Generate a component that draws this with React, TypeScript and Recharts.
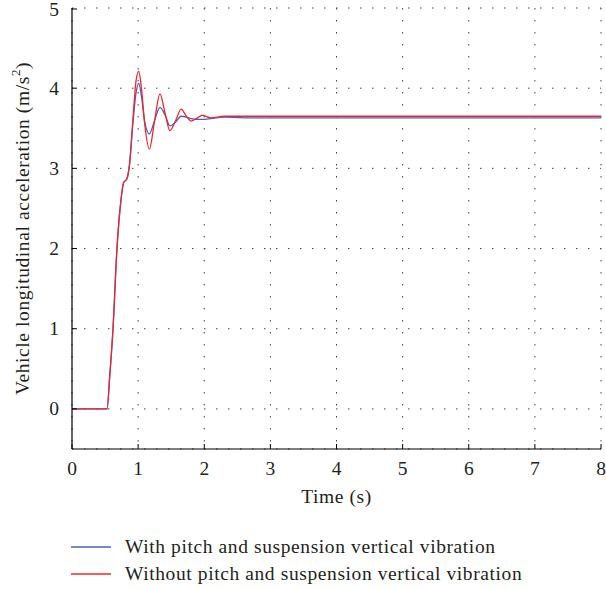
import React from 'react';
import {
  ComposedChart,
  Line,
  XAxis,
  YAxis,
  CartesianGrid
} from 'recharts';

// time samples (s)
const times = [
  0, 0.5, 0.53, 0.57, 0.62, 0.68, 0.74, 0.78, 0.83, 0.87, 0.92, 0.97, 1.01, 1.05, 1.1,
  1.17, 1.25, 1.33, 1.41, 1.48, 1.57, 1.65, 1.73, 1.8, 1.88, 1.97, 2.1, 2.3, 2.6, 3, 4, 5, 6, 7, 8
];

// with pitch and suspension vertical vibration
const withPitch = [
  0, 0, 0, 0.4, 1.0, 2.0, 2.6, 2.82, 2.87, 3.05, 3.55, 3.95, 4.06, 3.9, 3.58,
  3.43, 3.6, 3.76, 3.66, 3.53, 3.58, 3.65, 3.64, 3.62, 3.61, 3.61, 3.62, 3.64, 3.63, 3.63, 3.63, 3.63, 3.63, 3.63, 3.63
];

// without pitch and suspension vertical vibration
const withoutPitch = [
  0, 0, 0, 0.4, 1.0, 2.0, 2.6, 2.82, 2.87, 3.05, 3.6, 4.1, 4.21, 4.0, 3.55,
  3.24, 3.6, 3.93, 3.68, 3.47, 3.6, 3.74, 3.65, 3.59, 3.62, 3.66, 3.63, 3.65, 3.65, 3.65, 3.65, 3.65, 3.65, 3.65, 3.65
];

const xTicks = [0, 1, 2, 3, 4, 5, 6, 7, 8];
const yTicks = [0, 1, 2, 3, 4, 5];

const series = [
  { key: 'blue', name: 'With pitch and suspension vertical vibration', color: '#4a5ec2' },
  { key: 'red', name: 'Without pitch and suspension vertical vibration', color: '#f0262d' }
];

const data = times.map((t, i) => ({ t, blue: withPitch[i], red: withoutPitch[i] }));

const FONT = '"Liberation Serif", "Times New Roman", serif';
const TEXT = '#231f20';
const FS = 19.5;
const LS = 0.6;

const BottomTick = (props: any) => {
  const { x, y, payload } = props;
  return (
    <g>
      <line x1={x} x2={x} y1={y} y2={y - 5} stroke="#000" />
      <text x={x} y={y + 26} textAnchor="middle" fontSize={FS} fontFamily={FONT} fill={TEXT}>
        {payload.value}
      </text>
    </g>
  );
};

const LeftTick = (props: any) => {
  const { x, y, payload } = props;
  return (
    <g>
      <line x1={x} x2={x + 5} y1={y} y2={y} stroke="#000" />
      <text x={x - 13} y={y + 6.5} textAnchor="end" fontSize={FS} fontFamily={FONT} fill={TEXT}>
        {payload.value}
      </text>
    </g>
  );
};

const TopTick = (props: any) => {
  const { x, y } = props;
  return <line x1={x} x2={x} y1={y} y2={y + 5} stroke="#000" />;
};

const RightTick = (props: any) => {
  const { x, y } = props;
  return <line x1={x} x2={x - 5} y1={y} y2={y} stroke="#000" />;
};

const YLabel = (props: any) => {
  const vb = props.viewBox || { y: 8, height: 441 };
  const cy = vb.y + vb.height / 2;
  return (
    <text
      x={22}
      y={cy}
      transform={`rotate(-90, 22, ${cy})`}
      textAnchor="middle"
      dominantBaseline="central"
      fontSize={FS}
      letterSpacing={LS}
      fontFamily={FONT}
      fill={TEXT}
    >
      Vehicle longitudinal acceleration (m/s
      <tspan dy={-7} fontSize={13}>2</tspan>
      <tspan dy={7}>)</tspan>
    </text>
  );
};

const XLabel = (props: any) => {
  const vb = props.viewBox || { x: 72, width: 529 };
  const cx = vb.x + vb.width / 2;
  return (
    <text x={cx} y={503} textAnchor="middle" fontSize={FS} letterSpacing={LS} fontFamily={FONT} fill={TEXT}>
      Time (s)
    </text>
  );
};

export default function App() {
  return (
    <div style={{ position: 'absolute', left: 0, top: 0, width: 606, height: 589, background: '#fff' }}>
      <ComposedChart width={606} height={520} data={data} margin={{ top: 8, right: 5, bottom: 31, left: 0 }}>
        <CartesianGrid stroke="#444" strokeDasharray="1.5 10.5" />
        <XAxis
          dataKey="t"
          type="number"
          domain={[0, 8]}
          ticks={xTicks}
          allowDataOverflow
          height={40}
          tickSize={0}
          tickMargin={0}
          tickLine={false}
          axisLine={{ stroke: '#000', strokeWidth: 1.2 }}
          tick={<BottomTick />}
          label={<XLabel />}
        />
        <XAxis
          xAxisId="top"
          orientation="top"
          dataKey="t"
          type="number"
          domain={[0, 8]}
          ticks={xTicks}
          allowDataOverflow
          height={0}
          tickSize={0}
          tickMargin={0}
          tickLine={false}
          axisLine={{ stroke: '#000', strokeWidth: 1.2 }}
          tick={<TopTick />}
        />
        <YAxis
          type="number"
          domain={[-0.5, 5]}
          ticks={yTicks}
          allowDataOverflow
          width={72}
          tickSize={0}
          tickMargin={0}
          tickLine={false}
          axisLine={{ stroke: '#000', strokeWidth: 1.2 }}
          tick={<LeftTick />}
          label={<YLabel />}
        />
        <YAxis
          yAxisId="right"
          orientation="right"
          dataKey="red"
          type="number"
          domain={[-0.5, 5]}
          ticks={yTicks}
          allowDataOverflow
          width={0}
          tickSize={0}
          tickMargin={0}
          tickLine={false}
          axisLine={{ stroke: '#000', strokeWidth: 1.2 }}
          tick={<RightTick />}
        />
        {series.map((s) => (
          <Line
            key={s.key}
            type="monotone"
            dataKey={s.key}
            name={s.name}
            stroke={s.color}
            strokeWidth={1.3}
            dot={false}
            isAnimationActive={false}
          />
        ))}
      </ComposedChart>
      <div style={{ position: 'absolute', left: 71, top: 533, fontFamily: FONT, fontSize: FS, letterSpacing: LS, color: TEXT }}>
        {series.map((s) => (
          <div key={s.key} style={{ display: 'flex', alignItems: 'center', height: 27 }}>
            <svg width={40} height={4} style={{ marginRight: 14, display: 'block' }}>
              <line x1={0} x2={40} y1={2} y2={2} stroke={s.color} strokeWidth={1.6} />
            </svg>
            <span>{s.name}</span>
          </div>
        ))}
      </div>
    </div>
  );
}
